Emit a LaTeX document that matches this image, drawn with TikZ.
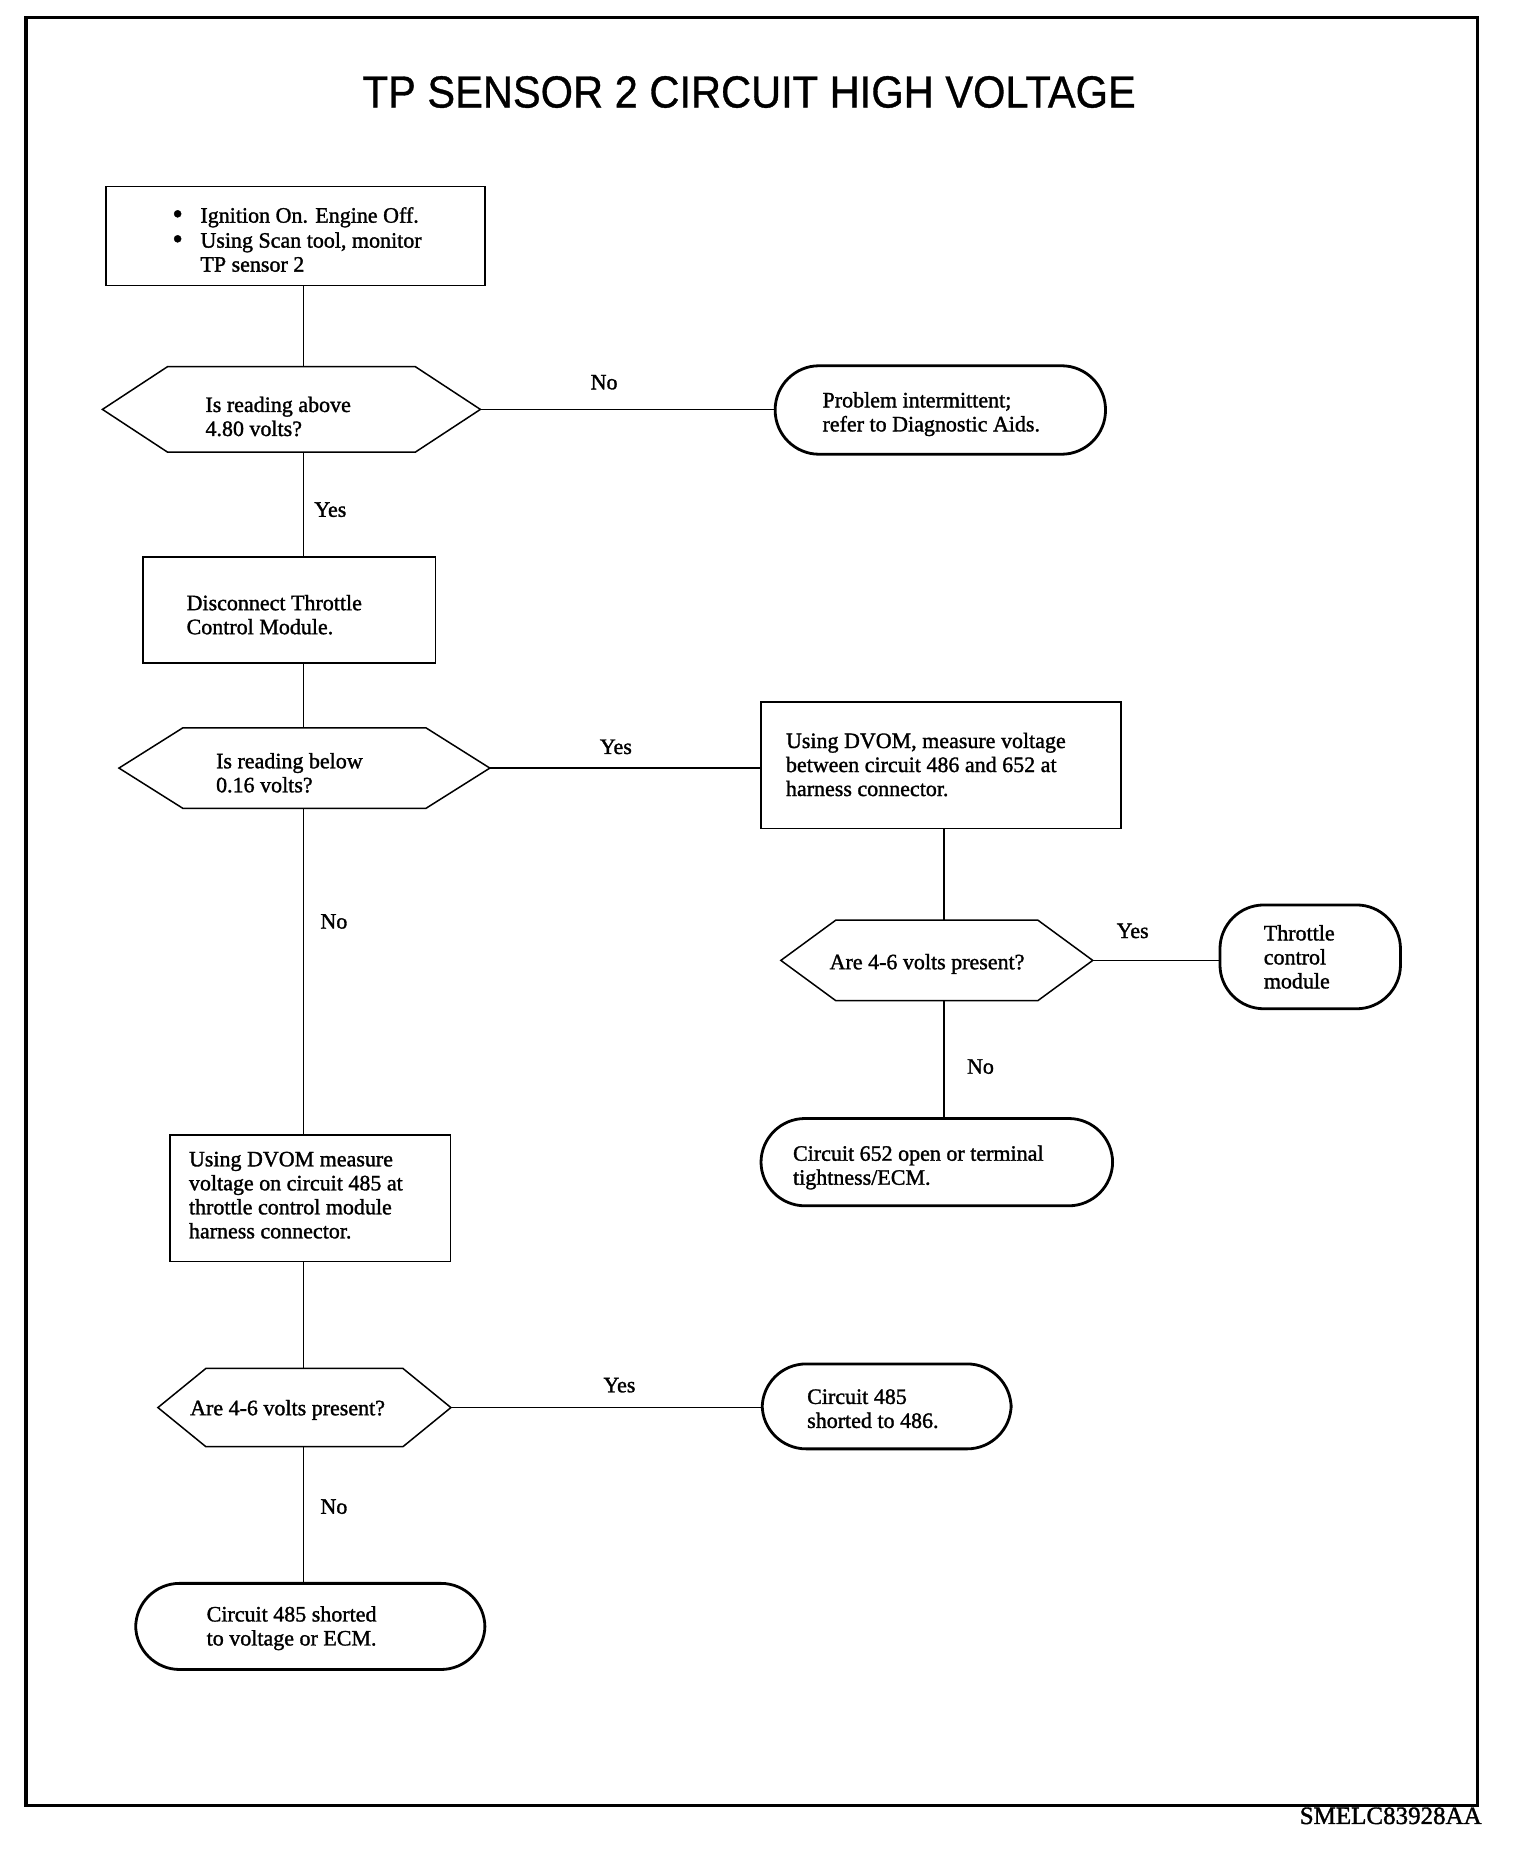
\documentclass[tikz,border=0pt]{standalone}
\usepackage{graphicx}
\usepackage{fontspec}
\usetikzlibrary{fit,calc}
\newfontfamily\bodyfont{Liberation Serif}[FakeBold=1.4]
\newfontfamily\titlefont{Liberation Sans}[FakeBold=0.8]
\newcommand{\hexagonpath}[2]{\draw[hexline] (#1.west) -- ([xshift=#2]#1.north west) -- ([xshift=-#2]#1.north east) -- (#1.east) -- ([xshift=-#2]#1.south east) -- ([xshift=#2]#1.south west) -- cycle;}
\newcommand{\bigbul}{\makebox[28pt][l]{\raisebox{-1pt}[0pt][0pt]{\scalebox{1.35}{\textbullet}}}}
\tikzset{
  boxs/.style={draw, line width=1.5pt, inner sep=0pt},
  terms/.style={draw, line width=2.8pt, rounded corners=44pt, inner sep=0pt},
  hexs/.style={inner sep=0pt},
  hexline/.style={line width=1.5pt, line join=miter},
  txt/.style={align=left, inner sep=0pt, anchor=west, font=\bodyfont\fontsize{22}{24}\selectfont},
  lbl/.style={inner sep=0pt, font=\bodyfont\fontsize{22}{24}\selectfont},
  conn/.style={line width=1.3pt}
}
\begin{document}
\begin{tikzpicture}[x=1.1801pt, y=-1.1801pt]
\useasboundingbox (0,0) rectangle (1288,1568);
\draw[line width=3.2pt] (22,15) rectangle (1252,1530);
\node[font=\titlefont\fontsize{45}{50}\selectfont, inner sep=0pt] (title) at (635,78) {\scalebox{0.925}[1]{TP SENSOR 2 CIRCUIT HIGH VOLTAGE}};
\coordinate (mx) at (257,0);
\coordinate (rx) at (800,0);
% shapes
\node[boxs, fit={(90,158) (411,242)}] (b1) {};
\node[hexs, fit={(87,311) (407,383)}] (h1) {};
\hexagonpath{h1}{65pt}
\node[terms, fit={(657,310) (937,385)}] (t1) {};
\node[boxs, fit={(121,472) (369,562)}] (b2) {};
\node[hexs, fit={(101,617) (415,685)}] (h2) {};
\hexagonpath{h2}{64pt}
\node[boxs, fit={(645,595) (950,702)}] (b3) {};
\node[hexs, fit={(662,780) (926,848)}] (h3) {};
\hexagonpath{h3}{55pt}
\node[terms, fit={(1034,767) (1187,855)}] (tt) {};
\node[terms, fit={(645,948) (943,1022)}] (t652) {};
\node[boxs, fit={(144,962) (382,1069)}] (b4) {};
\node[hexs, fit={(134,1160) (382,1226)}] (h4) {};
\hexagonpath{h4}{48pt}
\node[terms, fit={(646,1156) (857,1228)}] (ta) {};
\node[terms, fit={(115,1342) (411,1415)}] (tb) {};
% texts
\node[txt] (x1) at (146,203) {\bigbul Ignition On. Engine Off.\\[1pt]\bigbul Using Scan tool, monitor\\\makebox[28pt][l]{}TP sensor 2};
\node[txt] (xh1) at (174,353) {Is reading above\\4.80 volts?};
\node[txt] (xt1) at (697,351) {Problem intermittent;\\refer to Diagnostic Aids.};
\node[txt] (xb2) at (158,521) {Disconnect Throttle\\Control Module.};
\node[txt] (xh2) at (183,655) {Is reading below\\0.16 volts?};
\node[txt] (xb3) at (666,648) {Using DVOM, measure voltage\\between circuit 486 and 652 at\\harness connector.};
\node[txt] (xh3) at (703,817) {Are 4-6 volts present?};
\node[txt] (xtt) at (1071,811) {Throttle\\control\\module};
\node[txt] (xt652) at (672,989.5) {Circuit 652 open or terminal\\tightness/ECM.};
\node[txt] (xb4) at (160,1013) {Using DVOM measure\\voltage on circuit 485 at\\throttle control module\\harness connector.};
\node[txt] (xh4) at (161,1195) {Are 4-6 volts present?};
\node[txt] (xta) at (684,1194) {Circuit 485\\shorted to 486.};
\node[txt] (xtb) at (175,1380) {Circuit 485 shorted\\to voltage or ECM.};
% connectors
\draw[conn] (b1.south -| mx) -- (h1.north -| mx);
\draw[conn] (h1.east) -- (h1.east -| t1.west);
\draw[conn] (h1.south -| mx) -- (b2.north -| mx);
\draw[conn] (b2.south -| mx) -- (h2.north -| mx);
\draw[conn] (h2.east) -- (h2.east -| b3.west);
\draw[conn] (b3.south -| rx) -- (h3.north -| rx);
\draw[conn] (h3.east) -- (h3.east -| tt.west);
\draw[conn] (h3.south -| rx) -- (t652.north -| rx);
\draw[conn] (h2.south -| mx) -- (b4.north -| mx);
\draw[conn] (b4.south -| mx) -- (h4.north -| mx);
\draw[conn] (h4.east) -- (h4.east -| ta.west);
\draw[conn] (h4.south -| mx) -- (tb.north -| mx);
% labels
\node[lbl] (l1) at (512,324) {No};
\node[lbl] (l2) at (280,432) {Yes};
\node[lbl] (l3) at (522,633) {Yes};
\node[lbl] (l4) at (283,781) {No};
\node[lbl] (l5) at (960,789) {Yes};
\node[lbl] (l6) at (831,904) {No};
\node[lbl] (l7) at (525,1174) {Yes};
\node[lbl] (l8) at (283,1277) {No};
\node[anchor=east, inner sep=0pt, font=\bodyfont\fontsize{25}{27}\selectfont] (code) at (1256,1539) {SMELC83928AA};
\end{tikzpicture}
\end{document}
